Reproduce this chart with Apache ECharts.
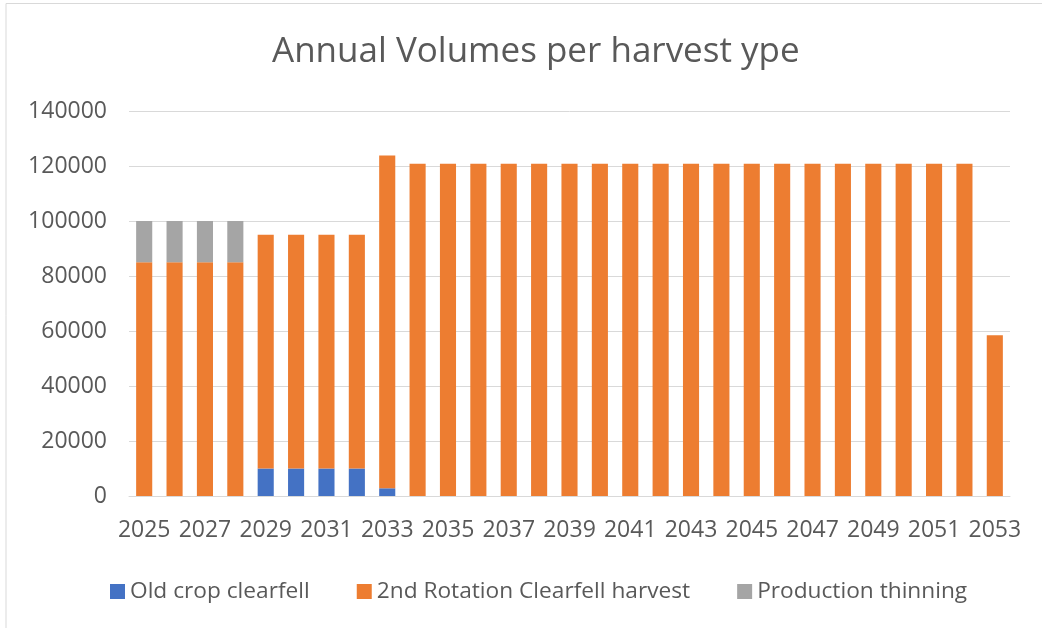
<!DOCTYPE html>
<html>
<head>
<meta charset="utf-8">
<script src="https://cdn.jsdelivr.net/npm/echarts@6/dist/echarts.min.js"></script>
<style>
  html, body { margin: 0; padding: 0; background: #fff; }
  #chart { width: 1042px; height: 628px; }
</style>
</head>
<body>
<div id="chart"></div>
<script>
// Harvest years
const years = [
  '2025','2026','2027','2028','2029','2030','2031','2032','2033','2034',
  '2035','2036','2037','2038','2039','2040','2041','2042','2043','2044',
  '2045','2046','2047','2048','2049','2050','2051','2052','2053'
];

// Annual volumes by harvest type
const oldCropClearfell = [
  0, 0, 0, 0, 10000, 10000, 10000, 10000, 2800, 0,
  0, 0, 0, 0, 0, 0, 0, 0, 0, 0,
  0, 0, 0, 0, 0, 0, 0, 0, 0
];
const secondRotationClearfell = [
  85000, 85000, 85000, 85000, 85000, 85000, 85000, 85000, 121000, 120800,
  120800, 120800, 120800, 120800, 120800, 120800, 120800, 120800, 120800, 120800,
  120800, 120800, 120800, 120800, 120800, 120800, 120800, 120800, 58500
];
const productionThinning = [
  15000, 15000, 15000, 15000, 0, 0, 0, 0, 0, 0,
  0, 0, 0, 0, 0, 0, 0, 0, 0, 0,
  0, 0, 0, 0, 0, 0, 0, 0, 0
];

const FONT = 'Open Sans, Noto Sans, sans-serif';
const TEXT = '#595959';

const chart = echarts.init(document.getElementById('chart'), null, { renderer: 'canvas' });

function barSeries(name, data, color) {
  return {
    name: name,
    type: 'bar',
    stack: 'total',
    data: data,
    barCategoryGap: '47%',
    itemStyle: { color: color },
    emphasis: { disabled: true }
  };
}

chart.setOption({
  animation: false,
  backgroundColor: '#ffffff',
  textStyle: { fontFamily: FONT },
  title: {
    text: 'Annual Volumes per harvest ype',
    left: 267,
    top: 30,
    textStyle: { fontFamily: FONT, fontSize: 35, fontWeight: 'normal', color: TEXT }
  },
  legend: {
    top: 575,
    left: 105,
    itemWidth: 15,
    itemHeight: 15,
    itemGap: 47,
    icon: 'rect',
    textStyle: { fontFamily: FONT, fontSize: 22.7, color: TEXT },
    data: ['Old crop clearfell', '2nd Rotation Clearfell harvest', 'Production thinning']
  },
  grid: { left: 129, right: 32, top: 111, bottom: 132, containLabel: false },
  xAxis: {
    type: 'category',
    data: years,
    axisTick: { show: false },
    axisLine: { lineStyle: { color: '#D9D9D9', width: 1 } },
    axisLabel: {
      interval: 1,
      margin: 23,
      fontFamily: FONT,
      fontSize: 23,
      color: TEXT
    }
  },
  yAxis: {
    type: 'value',
    min: 0,
    max: 140000,
    interval: 20000,
    axisLine: { show: false },
    axisTick: { show: false },
    splitLine: { lineStyle: { color: '#D9D9D9', width: 1 } },
    axisLabel: {
      margin: 22,
      fontFamily: FONT,
      fontSize: 23,
      color: TEXT,
      formatter: function (v) { return String(v); }
    }
  },
  graphic: [{
    type: 'polyline',
    shape: { points: [[6, 628], [6, 3.5], [1042, 3.5]] },
    style: { stroke: '#D9D9D9', lineWidth: 1, fill: null },
    silent: true
  }],
  series: [
    barSeries('Old crop clearfell', oldCropClearfell, '#4472C4'),
    barSeries('2nd Rotation Clearfell harvest', secondRotationClearfell, '#ED7D31'),
    barSeries('Production thinning', productionThinning, '#A5A5A5')
  ]
});
</script>
</body>
</html>
